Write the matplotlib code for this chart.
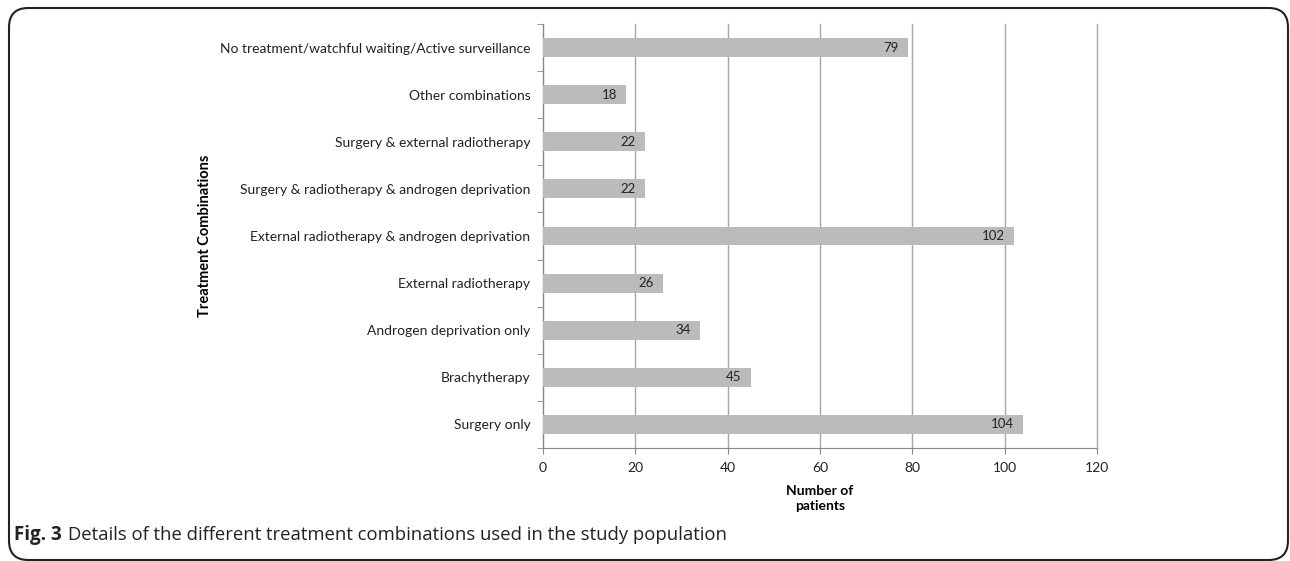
import matplotlib
matplotlib.use("Agg")
import matplotlib.pyplot as plt
from matplotlib.patches import FancyBboxPatch

categories = [
    "Surgery only",
    "Brachytherapy",
    "Androgen deprivation only",
    "External radiotherapy",
    "External radiotherapy & androgen deprivation",
    "Surgery & radiotherapy & androgen deprivation",
    "Surgery & external radiotherapy",
    "Other combinations",
    "No treatment/watchful waiting/Active surveillance",
]
values = [104, 45, 34, 26, 102, 22, 22, 18, 79]
xticks = [0, 20, 40, 60, 80, 100, 120]

plt.rcParams['font.family'] = ['Lato', 'DejaVu Sans']

fig = plt.figure(figsize=(12.9, 5.61), dpi=100)
ax = fig.add_axes([543/1290, 1 - 448/561, (1097-543)/1290, (448-24)/561])

ypos = list(range(len(categories)))
ax.barh(ypos, values, height=0.4, color='#BBBBBB', zorder=3)
for y, v in zip(ypos, values):
    ax.text(v - 2.0, y, str(v), ha='right', va='center', fontsize=9.5, color='#222222', zorder=4)

ax.set_xlim(0, 120)
ax.set_ylim(-0.5, len(categories) - 0.5)
ax.set_xticks(xticks)
ax.set_xticklabels([str(t) for t in xticks], fontsize=10, color='#222222')
ax.set_yticks(ypos)
ax.set_yticklabels(categories, fontsize=10, color='#222222')
ax.tick_params(axis='y', length=0, pad=9)
ax.set_yticks([i - 0.5 for i in range(len(categories) + 1)], minor=True)
ax.tick_params(axis='y', which='minor', length=4, color='#888888')
ax.tick_params(axis='x', length=4, color='#888888', pad=6)

ax.grid(axis='x', color='#A6A6A6', linewidth=1, zorder=0)
for gl in ax.get_xgridlines():
    gl.set_clip_on(False)
for s in ['top', 'right']:
    ax.spines[s].set_visible(False)
for s in ['left', 'bottom']:
    ax.spines[s].set_color('#888888')

ax.set_xlabel("Number of\npatients", fontsize=10, fontweight='bold', labelpad=8, linespacing=1.3)
fig.text(205/1290, 1 - 236/561, "Treatment Combinations", rotation=90, ha='center', va='center',
         fontsize=10.5, fontweight='bold')

box = FancyBboxPatch((9/1290, 1/561), 1279/1290, 552/561,
                     boxstyle="round,pad=0,rounding_size=0.015", transform=fig.transFigure,
                     fill=False, edgecolor='#222222', linewidth=1.5, mutation_aspect=1290/561)
fig.patches.append(box)

fig.text(14/1290, 1 - 535/561, "Fig. 3", fontsize=13.5, fontweight='bold', color='#222222',
         ha='left', va='center', family=['Open Sans', 'DejaVu Sans'])
fig.text(68/1290, 1 - 535/561, "Details of the different treatment combinations used in the study population",
         fontsize=13.3, color='#222222', ha='left', va='center', family=['Open Sans', 'DejaVu Sans'])

fig.savefig("out.png", dpi=100)
